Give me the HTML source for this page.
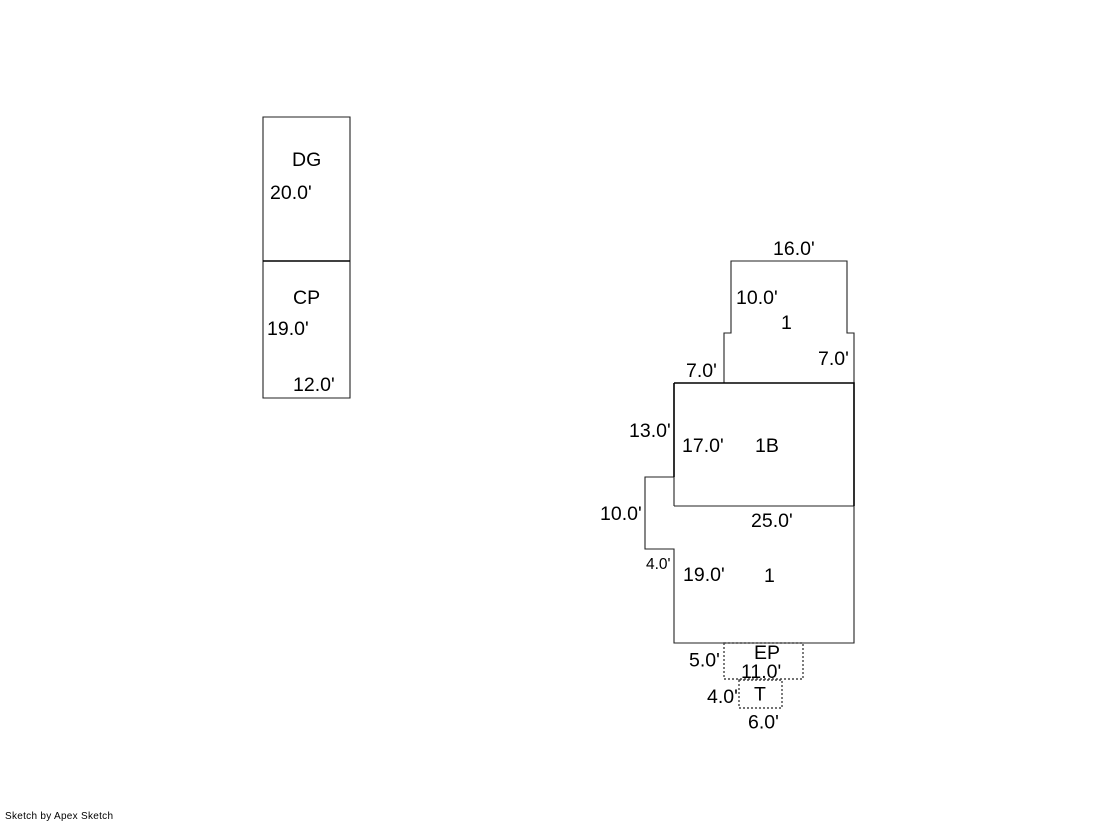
<!DOCTYPE html>
<html><head><meta charset="utf-8"><style>
html,body{margin:0;padding:0;background:#fff}
svg{display:block}
text{font-family:"Liberation Sans",sans-serif;font-size:19.5px;fill:#000}
</style></head><body>
<svg width="1119" height="821" viewBox="0 0 1119 821" xmlns="http://www.w3.org/2000/svg">
<g fill="none" stroke="#222" stroke-width="1.1">
<path d="M263 261V117H350V398H263V261"/>
<path d="M263 261H350" stroke="#000" stroke-width="1.6"/>
<path d="M724 383V333H731V261H847V333H854V383"/>
<path d="M674 506H854"/>
<path d="M674 477H645V549H674V643H854V506"/>
<path d="M674 383H854V506M674 383V477" stroke="#000" stroke-width="1.6"/>
<path d="M674 477V506"/>
<g stroke="#444" stroke-width="1.4" stroke-dasharray="2 2">
<rect x="724" y="643" width="79" height="36"/>
<rect x="739" y="680" width="43" height="28"/>
</g>
</g>
<text x="292" y="166">DG</text>
<text x="270" y="199">20.0'</text>
<text x="293" y="304">CP</text>
<text x="267" y="335">19.0'</text>
<text x="293" y="391">12.0'</text>
<text x="773" y="255">16.0'</text>
<text x="736" y="304">10.0'</text>
<text x="781" y="329">1</text>
<text x="818" y="365">7.0'</text>
<text x="686" y="377">7.0'</text>
<text x="629" y="437">13.0'</text>
<text x="682" y="452">17.0'</text>
<text x="755" y="452">1B</text>
<text x="600" y="520">10.0'</text>
<text x="751" y="527">25.0'</text>
<text x="646" y="569" style="font-size:15.5px">4.0'</text>
<text x="683" y="581">19.0'</text>
<text x="764" y="582">1</text>
<text x="754" y="659">EP</text>
<text x="689" y="666.5">5.0'</text>
<text x="741" y="678">11.0'</text>
<text x="754" y="700.5">T</text>
<text x="707" y="703">4.0'</text>
<text x="748" y="728.5">6.0'</text>
<text x="5" y="819" style="font-size:10px" textLength="108">Sketch by Apex Sketch</text>
</svg>
</body></html>
